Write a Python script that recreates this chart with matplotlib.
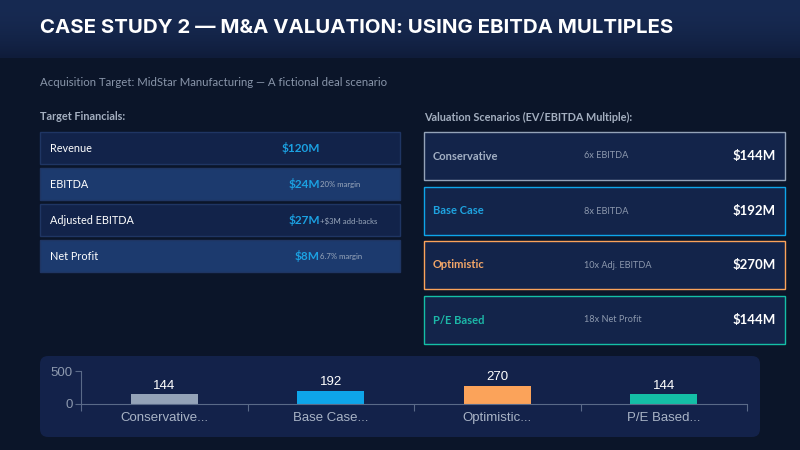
import numpy as np
import matplotlib
matplotlib.use("Agg")
import matplotlib.pyplot as plt
from matplotlib.patches import Rectangle, FancyBboxPatch

# data
fin_labels = ["Revenue", "EBITDA", "Adjusted EBITDA", "Net Profit"]
fin_values = ["$120M", "$24M", "$27M", "$8M"]
fin_notes = ["", "20% margin", "+$3M add-backs", "6.7% margin"]

scen_names = ["Conservative", "Base Case", "Optimistic", "P/E Based"]
scen_basis = ["6x EBITDA", "8x EBITDA", "10x Adj. EBITDA", "18x Net Profit"]
scen_values = [144, 192, 270, 144]
scen_colors = ["#94a3b8", "#0ea5e9", "#fba35a", "#14bfa6"]
scen_text_colors = ["#a3b0c4", "#1ea3e0", "#f4a768", "#1cb8a8"]
chart_labels = ["Conservative...", "Base Case...", "Optimistic...", "P/E Based..."]

BG = "#0b1529"
TITLE_FONT = ["Inter", "DejaVu Sans"]
BODY_FONT = ["Lato", "DejaVu Sans"]
NARROW_FONT = ["Liberation Sans Narrow", "Liberation Sans", "DejaVu Sans"]

fig = plt.figure(figsize=(8, 4.5), dpi=100)
fig.patch.set_facecolor(BG)

# full-figure canvas in pixel units
bg = fig.add_axes([0, 0, 1, 1])
bg.set_xlim(0, 800)
bg.set_ylim(450, 0)
bg.axis("off")

# header band with soft vertical gradient
grad = np.linspace(0, 1, 60).reshape(-1, 1)
top = np.array([0x17, 0x2a, 0x52]) / 255
bot = np.array([0x0f, 0x1c, 0x3a]) / 255
img = top + (bot - top) * grad[..., None] ** 2
bg.imshow(img, extent=[0, 800, 58, 0], aspect="auto", zorder=0)

bg.text(40, 28, "CASE STUDY 2 — M&A VALUATION: USING EBITDA MULTIPLES",
        color="white", fontsize=14.7, fontweight="bold", family=TITLE_FONT,
        va="center", ha="left")

bg.text(40, 83, "Acquisition Target: MidStar Manufacturing — A fictional deal scenario",
        color="#8995aa", fontsize=8.2, family=BODY_FONT, va="center")

# left: target financials
bg.text(40, 117, "Target Financials:", color="#a4afc0", fontsize=7.8,
        fontweight="bold", family=BODY_FONT, va="center")
row_tops = [132, 168, 204, 240]
row_fill = ["#12234a", "#1c3a6e", "#12234a", "#1c3a6e"]
for i, lab in enumerate(fin_labels):
    y0 = row_tops[i]
    bg.add_patch(Rectangle((40, y0), 360, 32, facecolor=row_fill[i],
                           edgecolor="#1f3563", lw=1, zorder=2))
    yc = y0 + 16.5
    bg.text(50, yc, lab, color="white", fontsize=7.8, family=BODY_FONT,
            va="center", zorder=3)
    bg.text(320, yc, fin_values[i], color="#1ba1e2", fontsize=8.5,
            fontweight="bold", family=BODY_FONT, va="center", ha="right", zorder=3)
    if fin_notes[i]:
        bg.text(320.5, yc + 0.5, fin_notes[i], color="#9aa8bc", fontsize=5.6,
                family=BODY_FONT, va="center", ha="left", zorder=3)

# right: valuation scenarios
bg.text(424, 117, "Valuation Scenarios (EV/EBITDA Multiple):", color="#a4afc0",
        fontsize=7.8, fontweight="bold", family=BODY_FONT, va="center")
box_tops = [132, 187, 241, 296]
for i, name in enumerate(scen_names):
    y0 = box_tops[i]
    bg.add_patch(Rectangle((424, y0), 361, 48, facecolor="#13244a",
                           edgecolor=scen_colors[i], lw=1, zorder=2))
    yc = y0 + 24
    bg.text(433, yc, name, color=scen_text_colors[i], fontsize=8,
            fontweight="bold", family=BODY_FONT, va="center", zorder=3)
    bg.text(584, yc, scen_basis[i], color="#8d99ae", fontsize=6.6,
            family=BODY_FONT, va="center", zorder=3)
    bg.text(776, yc, f"${scen_values[i]}M", color="white", fontsize=9.5,
            fontweight="bold", family=BODY_FONT, va="center", ha="right", zorder=3)

# bottom chart panel
bg.add_patch(FancyBboxPatch((40, 356), 720, 81, boxstyle="round,pad=0,rounding_size=8",
                            facecolor="#13224a", edgecolor="none", zorder=1))

ax = fig.add_axes([81 / 800, 46 / 450, 666 / 800, 33 / 450])
ax.set_facecolor("none")
x = np.arange(len(scen_values))
bars = ax.bar(x, scen_values, width=0.4, color=scen_colors, zorder=2)
for xi, v in zip(x, scen_values):
    ax.text(xi, v + 45, str(v), color="white", fontsize=9.5, family=NARROW_FONT,
            ha="center", va="bottom")
ax.set_xlim(-0.5, len(scen_values) - 0.5)
ax.set_ylim(0, 500)
ax.set_yticks([0, 500])
ax.set_yticklabels(["0", "500"], family=NARROW_FONT)
ax.set_xticks(np.arange(len(scen_values) + 1) - 0.5)
ax.set_xticklabels([])
ax.set_xticks(x, minor=True)
ax.set_xticklabels(chart_labels, minor=True, family=NARROW_FONT)
ax.tick_params(axis="x", which="minor", length=0, pad=6, labelsize=9.5,
               labelcolor="#a9b4c6")
ax.tick_params(axis="x", which="major", length=5, color="#5a6a88")
ax.tick_params(axis="y", length=4, color="#5a6a88", labelsize=9.5,
               labelcolor="#8d99ae", pad=2)
for s in ["top", "right"]:
    ax.spines[s].set_visible(False)
for s in ["left", "bottom"]:
    ax.spines[s].set_color("#5a6a88")
    ax.spines[s].set_linewidth(0.8)

fig.savefig("out.png", dpi=100, facecolor=BG)
